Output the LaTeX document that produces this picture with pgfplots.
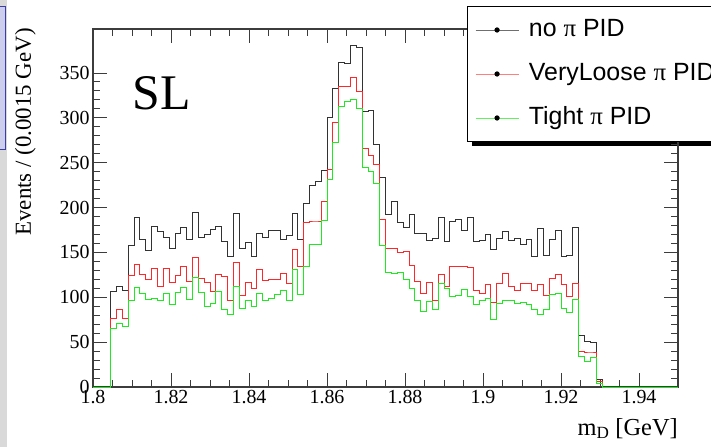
\documentclass[border=0pt]{standalone}
\usepackage{fontspec}
\setmainfont{Liberation Serif}
\newfontfamily\sansf{Liberation Sans}
\usepackage{pgfplots}
\pgfplotsset{compat=1.18}
\usepackage{pgfplotstable}

\pgfplotstableread{
x b r g
1.8000 0 0 0
1.8045 106 76 65
1.8060 112 87 71
1.8075 108 76 68
1.8090 158 124 97
1.8105 189 137 111
1.8120 165 126 104
1.8135 152 120 98
1.8150 179 132 99
1.8165 173 112 96
1.8180 167 132 104
1.8195 155 117 92
1.8210 171 124 105
1.8225 178 134 111
1.8240 165 118 98
1.8255 195 144 122
1.8270 167 121 105
1.8285 170 117 90
1.8300 176 106 93
1.8315 179 126 106
1.8330 162 123 86
1.8345 146 96 81
1.8360 194 139 112
1.8375 154 102 88
1.8390 161 117 96
1.8405 145 110 90
1.8420 171 131 104
1.8435 167 119 96
1.8450 174 120 99
1.8465 174 120 103
1.8480 165 127 108
1.8495 169 115 97
1.8510 193 153 131
1.8525 165 134 103
1.8540 205 184 134
1.8555 225 185 159
1.8570 229 185 159
1.8585 241 207 186
1.8600 300 242 231
1.8615 333 295 273
1.8630 362 335 313
1.8645 361 335 318
1.8660 381 345 321
1.8675 378 330 311
1.8690 307 266 245
1.8705 308 258 240
1.8720 270 248 227
1.8735 234 187 158
1.8750 192 154 128
1.8765 207 154 127
1.8780 184 150 128
1.8795 178 151 120
1.8810 192 135 110
1.8825 171 118 96
1.8840 171 104 84
1.8855 163 117 95
1.8870 166 97 86
1.8885 189 126 115
1.8900 162 112 110
1.8915 185 134 101
1.8930 187 134 102
1.8945 174 134 109
1.8960 189 133 101
1.8975 162 108 92
1.8990 163 104 97
1.9005 170 114 99
1.9020 153 94 75
1.9035 166 116 93
1.9050 173 127 96
1.9065 163 112 97
1.9080 166 108 93
1.9095 159 115 94
1.9110 165 116 92
1.9125 146 108 87
1.9140 177 114 81
1.9155 147 102 86
1.9170 165 121 103
1.9185 174 126 104
1.9200 146 114 88
1.9215 147 101 83
1.9230 178 116 98
1.9245 57 40 34
1.9260 51 39 29
1.9275 50 39 33
1.9290 8 6 4
1.9305 0 0 0
1.9500 0 0 0
}\hist

\definecolor{hred}{RGB}{255,40,40}
\definecolor{hgreen}{RGB}{30,235,30}
\definecolor{hblack}{RGB}{50,50,50}
\definecolor{frame}{RGB}{60,60,60}

\begin{document}
\begin{tikzpicture}
\path[use as bounding box] (0bp,0bp) rectangle (711bp,447bp);
\clip (0bp,0bp) rectangle (711bp,447bp);
\fill[white] (0bp,0bp) rectangle (711bp,447bp);
\fill[gray!30] (0bp,0bp) rectangle (7bp,447bp);
\filldraw[fill={rgb,255:red,205;green,205;blue,238}, draw={rgb,255:red,60;green,60;blue,170}, line width=1bp] (-3bp,297bp) rectangle (5.5bp,440bp);
% legend drop shadow (decoration)
\fill[black] (472bp,301bp) rectangle (720bp,440bp);
\begin{axis}[
  at={(93bp,60bp)}, anchor=south west,
  scale only axis, width=585bp, height=358bp,
  xmin=1.8, xmax=1.95, ymin=0, ymax=399,
  clip=false,
  xtick={1.8,1.82,1.84,1.86,1.88,1.9,1.92,1.94},
  xticklabels={1.8,1.82,1.84,1.86,1.88,1.9,1.92,1.94},
  ytick={0,50,100,150,200,250,300,350},
  minor x tick num=3, minor y tick num=4,
  tick align=inside,
  major tick length=14bp, minor tick length=7bp,
  tick style={frame, line width=0.9bp},
  axis line style={frame, line width=1.1bp},
  /pgf/number format/assume math mode=true,
  tick label style={font=\fontsize{20}{20}\selectfont},
  xlabel={m$_{\mathrm{D}}$ [GeV]},
  ylabel={Events / (0.0015 GeV)},
  xlabel style={at={(axis description cs:1,0)}, anchor=base east, yshift=-48bp, font=\fontsize{24.5}{24.5}\selectfont, inner sep=0pt},
  ylabel style={at={(axis description cs:-0.106,1.003)}, anchor=base east, font=\fontsize{23}{23}\selectfont, inner sep=0pt},
  legend cell align=left,
  legend style={at={(0.639,1.064)}, anchor=north west, draw=black, line width=0.8bp, fill=white,
    inner xsep=8bp, inner ysep=12bp, row sep=21bp, column sep=10bp,
    font=\sansf\fontsize{25}{30}\selectfont,
    nodes={inner sep=0pt, text height=18bp, text depth=5bp, anchor=west}},
]
\addplot[const plot, draw=hblack, line width=0.8bp,
  legend image code/.code={\draw[hblack!70, line width=0.7bp] (0bp,0bp) -- (43bp,0bp); \fill[black] (21.5bp,0bp) circle (2.2bp);}]
  table[x=x, y=b] {\hist};
\addlegendentry{no {\rmfamily π} PID}
\addplot[const plot, draw=hred, line width=0.8bp,
  legend image code/.code={\draw[hred!60, line width=0.7bp] (0bp,0bp) -- (43bp,0bp); \fill[black] (21.5bp,0bp) circle (2.2bp);}]
  table[x=x, y=r] {\hist};
\addlegendentry{VeryLoose {\rmfamily π} PID\hspace{40bp}}
\addplot[const plot, draw=hgreen, line width=0.8bp,
  legend image code/.code={\draw[hgreen!70, line width=0.7bp] (0bp,0bp) -- (43bp,0bp); \fill[black] (21.5bp,0bp) circle (2.2bp);}]
  table[x=x, y=g] {\hist};
\addlegendentry{Tight {\rmfamily π} PID}
\node[anchor=base west, font=\fontsize{50}{50}\selectfont, inner sep=0pt] at (rel axis cs:0.0675,0.774) {SL};
\end{axis}
\end{tikzpicture}
\end{document}
